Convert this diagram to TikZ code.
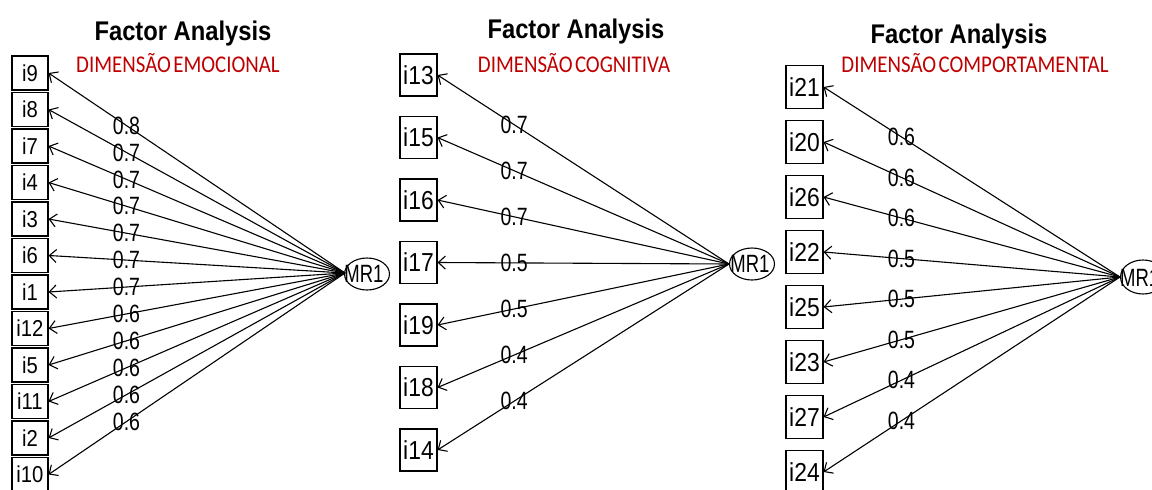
\documentclass[tikz,border=0pt]{standalone}
\usepackage{fontspec}
\setmainfont{Liberation Sans}
\newfontfamily\lblfont[FakeStretch=0.78]{Liberation Sans}
\newfontfamily\boxfont[FakeStretch=0.88]{Liberation Sans}
\newfontfamily\mrfont[FakeStretch=0.74]{Liberation Sans}
\newfontfamily\titfont[FakeStretch=0.88]{Liberation Sans}
\newfontfamily\redfont[FakeStretch=0.87,WordSpace=0.5]{Carlito}
\usetikzlibrary{arrows.meta,shapes.geometric}
\definecolor{dimred}{RGB}{192,0,0}
\tikzset{
  itembox/.style={draw, line width=1.1pt, minimum width=37pt, minimum height=42pt, inner sep=0pt,
    font=\boxfont\fontsize{26}{26}\selectfont},
  itemboxs/.style={itembox, minimum width=36pt, minimum height=34pt,
    font=\boxfont\fontsize{23}{23}\selectfont},
  factor/.style={draw, ellipse, line width=1.1pt, minimum width=45pt, minimum height=32pt, inner sep=0pt},
  mrtext/.style={inner sep=0pt, font=\mrfont\fontsize{25}{25}\selectfont},
  loading/.style={line width=1.1pt, -{Straight Barb[length=7pt,width=13pt]}},
  lbl/.style={inner sep=0pt, font=\lblfont\fontsize{25}{25}\selectfont},
  title/.style={anchor=base, inner sep=0pt, font=\titfont\bfseries\fontsize{27}{27}\selectfont},
  subtitle/.style={anchor=base, inner sep=0pt, text=dimred, font=\redfont\fontsize{24}{24}\selectfont}
}
\begin{document}
\begin{tikzpicture}[x=1pt,y=-1pt]
\useasboundingbox (0,0) rectangle (1152,490);
% ---------- Panel 1 ----------
\node[title] (t1) at (183,40) {Factor Analysis};
\node[subtitle] (s1) at (178,72) {DIMENSÃO EMOCIONAL};
\node[factor] (e1) at (367,274) {};
\node[mrtext] (m1) at (364,274) {MR1};
\coordinate (c1) at (345,273);
\foreach \n/\v [count=\k from 0] in {i9/0.8,i8/0.7,i7/0.7,i4/0.7,i3/0.7,i6/0.7,i1/0.7,i12/0.6,i5/0.6,i11/0.6,i2/0.6,i10/0.6}{
  \node[itemboxs] (\n) at (30,{73+36.5*\k}) {\n};
  \draw[loading] (c1) -- node[lbl,pos=0.737] (l\n) {\v} (\n.east);
}
% ---------- Panel 2 ----------
\node[title] (t2) at (576,38) {Factor Analysis};
\node[subtitle] (s2) at (574,72) {DIMENSÃO COGNITIVA};
\node[factor] (e2) at (752,264) {};
\node[mrtext] (m2) at (750,264) {MR1};
\coordinate (c2) at (729,264);
\foreach \n/\v [count=\k from 0] in {i13/0.7,i15/0.7,i16/0.7,i17/0.5,i19/0.5,i18/0.4,i14/0.4}{
  \node[itembox] (\n) at (418.5,{75+62.5*\k}) {\n};
  \draw[loading] (c2) -- node[lbl,pos=0.737] (l\n) {\v} (\n.east);
}
% ---------- Panel 3 ----------
\node[title] (t3) at (959,43) {Factor Analysis};
\node[subtitle] (s3) at (975,72) {DIMENSÃO COMPORTAMENTAL};
\node[factor, minimum height=34pt] (e3) at (1143,277) {};
\node[mrtext, anchor=west] (m3) at (1120,278) {MR1};
\coordinate (c3) at (1120,277);
\foreach \n/\v [count=\k from 0] in {i21/0.6,i20/0.6,i26/0.6,i22/0.5,i25/0.5,i23/0.5,i27/0.4,i24/0.4}{
  \node[itembox, minimum height=43pt] (\n) at (804.5,{87+55*\k}) {\n};
  \draw[loading] (c3) -- node[lbl,pos=0.737] (l\n) {\v} (\n.east);
}
\end{tikzpicture}
\end{document}
